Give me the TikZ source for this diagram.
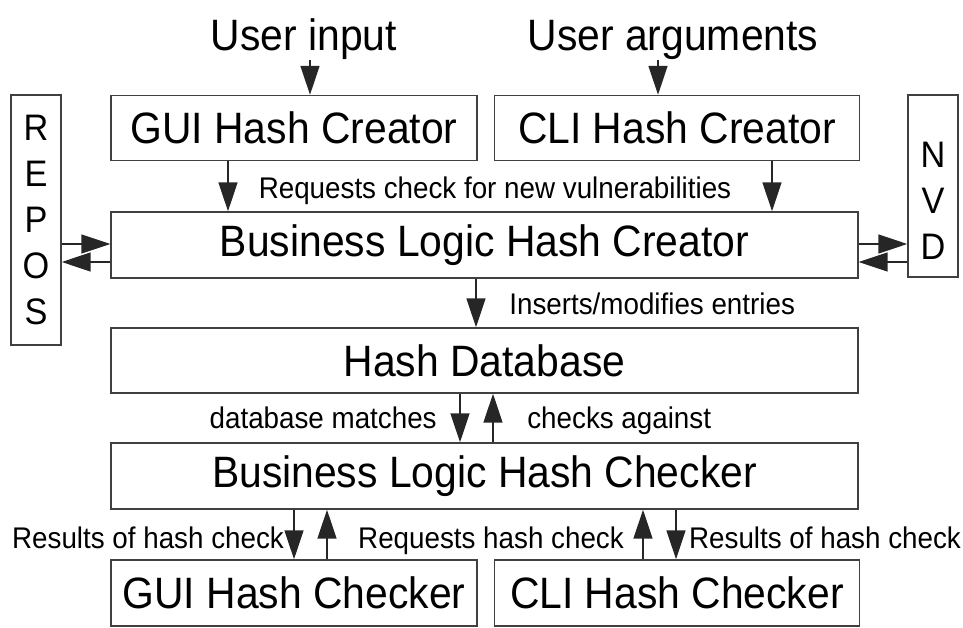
\documentclass[tikz,border=0pt]{standalone}
\usepackage{fontspec}
\setmainfont{Liberation Sans}[FakeStretch=0.93]
\usepackage{tikz}
\usetikzlibrary{positioning,arrows.meta}
\newcommand{\bigtxt}{\fontsize{25}{30}\selectfont}
\newcommand{\smalltxt}{\fontsize{17}{20}\selectfont}
\newcommand{\lettxt}{\fontsize{21}{26.1}\selectfont}
\tikzstyle{block} = [draw=black!75, line width=0.03cm, rectangle, inner sep=0pt, font=\bigtxt]
\tikzstyle{data} = [inner sep=0pt, font=\bigtxt]
\tikzstyle{note} = [inner sep=0pt, font=\smalltxt]
\tikzstyle{flow} = [-{Triangle[length=0.58cm,width=0.38cm]}, draw=black!85, line width=0.03cm]

\begin{document}
\begin{tikzpicture}[x=0.02cm, y=-0.02cm]
	\useasboundingbox (0,0) rectangle (963,628);
	\node (uin) [data, anchor=base] at (304,51) {User input};
	\node (uarg) [data, anchor=base] at (673,51) {User arguments};
	\node (guic) [block, minimum width=7.32cm, minimum height=1.3cm] at (294,128) {GUI Hash Creator};
	\node (clic) [block, right=0.32cm of guic, minimum width=7.3cm, minimum height=1.3cm] {CLI Hash Creator};
	\node (blhc) [block, minimum width=14.94cm, minimum height=1.32cm] at (484.5,245) {Business Logic Hash Creator};
	\node (repos) [block, minimum width=1cm, minimum height=5cm, font=\lettxt, align=center] at (36,220) {R\\E\\P\\O\\S};
	\node (nvd) [block, minimum width=1cm, minimum height=3.64cm,
		label={[font=\lettxt, align=center, yshift=-0.3cm]center:N\\V\\D}] at (933,186) {};
	\node (hdb) [block, minimum width=14.94cm, minimum height=1.3cm] at (484.5,360.5) {Hash Database};
	\node (blhk) [block, minimum width=14.94cm, minimum height=1.32cm] at (484.5,476) {Business Logic Hash Checker};
	\node (guik) [block, minimum width=7.32cm, minimum height=1.32cm] at (294,593) {GUI Hash Checker};
	\node (clik) [block, right=0.32cm of guik, minimum width=7.3cm, minimum height=1.32cm] {CLI Hash Checker};
	% inputs
	\draw [flow] (uin.south -| 310,0) -- (guic.north -| 310,0);
	\draw [flow] (uarg.south -| 658,0) -- (clic.north -| 658,0);
	\draw [flow] (guic.south -| 228,0) -- (blhc.north -| 228,0);
	\draw [flow] (clic.south -| 772,0) -- (blhc.north -| 772,0);
	\node (req) [note, anchor=base] at (495,199) {Requests check for new vulnerabilities};
	% sources
	\draw [flow] (repos.east |- 0,244) -- (blhc.west |- 0,244);
	\draw [flow] (blhc.west |- 0,262) -- (repos.east |- 0,262);
	\draw [flow] (blhc.east |- 0,244) -- (nvd.west |- 0,244);
	\draw [flow] (nvd.west |- 0,262) -- (blhc.east |- 0,262);
	% database
	\draw [flow] (blhc.south -| 476,0) -- (hdb.north -| 476,0);
	\node (ins) [note, anchor=base west] at (509,314) {Inserts/modifies entries};
	\draw [flow] (hdb.south -| 460,0) -- (blhk.north -| 460,0);
	\draw [flow] (blhk.north -| 493,0) -- (hdb.south -| 493,0);
	\node (dbm) [note, anchor=base east] at (437,428) {database matches};
	\node (chk) [note, anchor=base west] at (527,428) {checks against};
	% checkers
	\draw [flow] (blhk.south -| 294,0) -- (guik.north -| 294,0);
	\draw [flow] (guik.north -| 327,0) -- (blhk.south -| 327,0);
	\draw [flow] (clik.north -| 643,0) -- (blhk.south -| 643,0);
	\draw [flow] (blhk.south -| 676,0) -- (clik.north -| 676,0);
	\node (resg) [note, anchor=base] at (148,548) {Results of hash check};
	\node (reqh) [note, anchor=base] at (491,548) {Requests hash check};
	\node (resc) [note, anchor=base] at (825,548) {Results of hash check};
\end{tikzpicture}
\end{document}
